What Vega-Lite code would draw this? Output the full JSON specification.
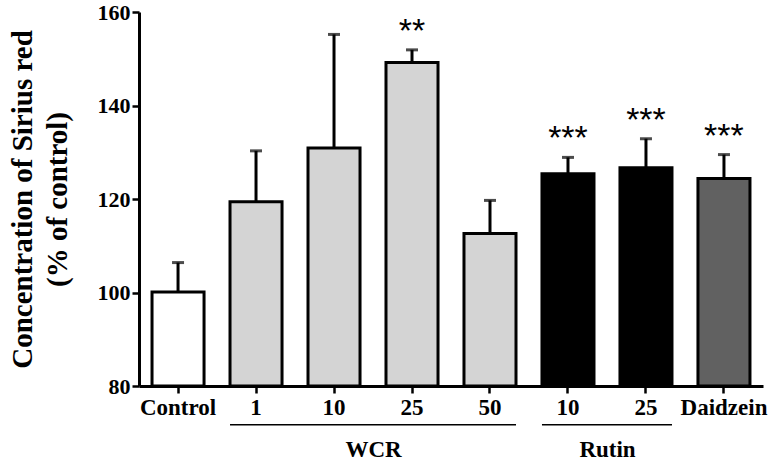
{
  "$schema": "https://vega.github.io/schema/vega-lite/v6.json",
  "width": 624,
  "height": 374,
  "autosize": {"type": "none"},
  "padding": {"left": 139, "top": 12, "right": 5, "bottom": 76},
  "background": "white",
  "config": {"view": {"stroke": null}},
  "datasets": {
    "bars": [
      {"key": "Control", "value": 100.1, "err": 106.4, "color": "white", "star": ""},
      {"key": "WCR_1", "value": 119.4, "err": 130.3, "color": "light", "star": ""},
      {"key": "WCR_10", "value": 130.9, "err": 155.2, "color": "light", "star": ""},
      {"key": "WCR_25", "value": 149.2, "err": 151.9, "color": "light", "star": "**"},
      {"key": "WCR_50", "value": 112.6, "err": 119.7, "color": "light", "star": ""},
      {"key": "Rutin_10", "value": 125.4, "err": 128.9, "color": "black", "star": "***"},
      {"key": "Rutin_25", "value": 126.7, "err": 132.9, "color": "black", "star": "***"},
      {"key": "Daidzein", "value": 124.4, "err": 129.5, "color": "dark", "star": "***"}
    ],
    "groups": [
      {"name": "WCR", "start": "WCR_1", "end": "WCR_50", "mid": "WCR_10", "lineY": 71.7, "textY": 66.3},
      {"name": "Rutin", "start": "Rutin_10", "end": "Rutin_25", "mid": "Rutin_10", "lineY": 71.7, "textY": 66.3}
    ]
  },
  "data": {"name": "bars"},
  "encoding": {
    "x": {
      "field": "key",
      "type": "nominal",
      "sort": null,
      "scale": {"paddingInner": 0.333, "paddingOuter": 0.167},
      "axis": {
        "title": null,
        "labelAngle": 0,
        "labelExpr": "indexof(datum.label,'_')>=0 ? split(datum.label,'_')[1] : datum.label",
        "labelFont": "Liberation Serif",
        "labelFontWeight": "bold",
        "labelFontSize": 23,
        "labelColor": "black",
        "labelPadding": 3,
        "domainColor": "black",
        "domainWidth": 3,
        "tickColor": "black",
        "tickWidth": 2.5,
        "tickSize": 7
      }
    }
  },
  "layer": [
    {
      "mark": {"type": "rule", "color": "black", "strokeWidth": 3},
      "encoding": {
        "y": {"field": "value", "type": "quantitative"},
        "y2": {"field": "err"}
      }
    },
    {
      "mark": {"type": "tick", "color": "black", "thickness": 3, "size": 12},
      "encoding": {
        "y": {"field": "err", "type": "quantitative"}
      }
    },
    {
      "mark": {"type": "bar", "stroke": "black", "strokeWidth": 3},
      "encoding": {
        "y": {
          "field": "value",
          "type": "quantitative",
          "scale": {"domain": [80, 160], "zero": false, "nice": false, "clamp": false},
          "axis": {
            "title": ["Concentration of Sirius red", "(% of control)"],
            "titleFont": "Liberation Serif",
            "titleFontWeight": "bold",
            "titleFontSize": 29,
            "titleLineHeight": 35,
            "titleColor": "black",
            "titlePadding": 25,
            "values": [80, 100, 120, 140, 160],
            "grid": false,
            "labelFont": "Liberation Serif",
            "labelFontWeight": "bold",
            "labelFontSize": 22,
            "labelColor": "black",
            "labelPadding": 2,
            "domainColor": "black",
            "domainWidth": 3,
            "tickColor": "black",
            "tickWidth": 2.5,
            "tickSize": 7
          }
        },
        "y2": {"datum": 80},
        "fill": {
          "field": "color",
          "type": "nominal",
          "scale": {"domain": ["white", "light", "black", "dark"], "range": ["#ffffff", "#d4d4d4", "#000000", "#616161"]},
          "legend": null
        }
      }
    },
    {
      "mark": {"type": "text", "font": "Liberation Sans", "fontSize": 34, "baseline": "middle", "dy": -18, "color": "black"},
      "encoding": {
        "y": {"field": "err", "type": "quantitative"},
        "text": {"field": "star"}
      }
    },
    {
      "data": {"name": "groups"},
      "mark": {"type": "rule", "color": "black", "strokeWidth": 1.5, "clip": false},
      "encoding": {
        "x": {"field": "start", "type": "nominal", "bandPosition": 0},
        "x2": {"field": "end", "bandPosition": 1},
        "y": {"field": "lineY", "type": "quantitative"}
      }
    },
    {
      "data": {"name": "groups"},
      "mark": {"type": "text", "font": "Liberation Serif", "fontWeight": "bold", "fontSize": 23, "baseline": "middle", "align": "center", "color": "black", "clip": false},
      "encoding": {
        "x": {"field": "mid", "type": "nominal", "bandPosition": 1.26},
        "y": {"field": "textY", "type": "quantitative"},
        "text": {"field": "name"}
      }
    }
  ]
}
